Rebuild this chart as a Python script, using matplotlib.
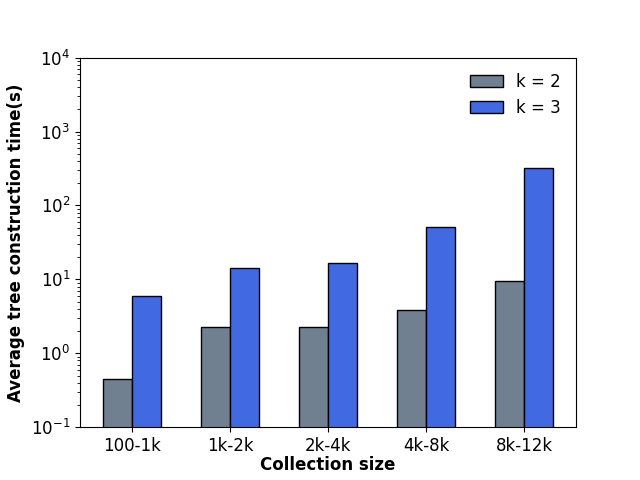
import numpy as np
import matplotlib
matplotlib.use("Agg")
import matplotlib.pyplot as plt

plt.rcParams["font.family"] = ["DejaVu Sans"]

# Average tree construction time per collection size
categories = ["100-1k", "1k-2k", "2k-4k", "4k-8k", "8k-12k"]
k2_times = [0.445, 2.25, 2.25, 3.81, 9.4]
k3_times = [5.9, 14.1, 16.5, 50.6, 320]

x = np.arange(len(categories))
width = 0.3

fig, ax = plt.subplots(figsize=(6.4, 4.8), dpi=100)
ax.bar(x - width / 2, k2_times, width, color="slategray", edgecolor="black", label="k = 2")
ax.bar(x + width / 2, k3_times, width, color="royalblue", edgecolor="black", label="k = 3")

ax.set_yscale("log")
ax.set_ylim(1e-1, 1e4)
ax.set_xticks(x)
ax.set_xticklabels(categories, fontsize=12)
ax.tick_params(axis="y", labelsize=12)
ax.set_xlabel("Collection size", fontsize=12, fontweight="bold", labelpad=1)
ax.set_ylabel("Average tree construction time(s)", fontsize=12, fontweight="bold")
ax.legend(frameon=False, fontsize=12, loc="upper right")

fig.savefig("out.png")
